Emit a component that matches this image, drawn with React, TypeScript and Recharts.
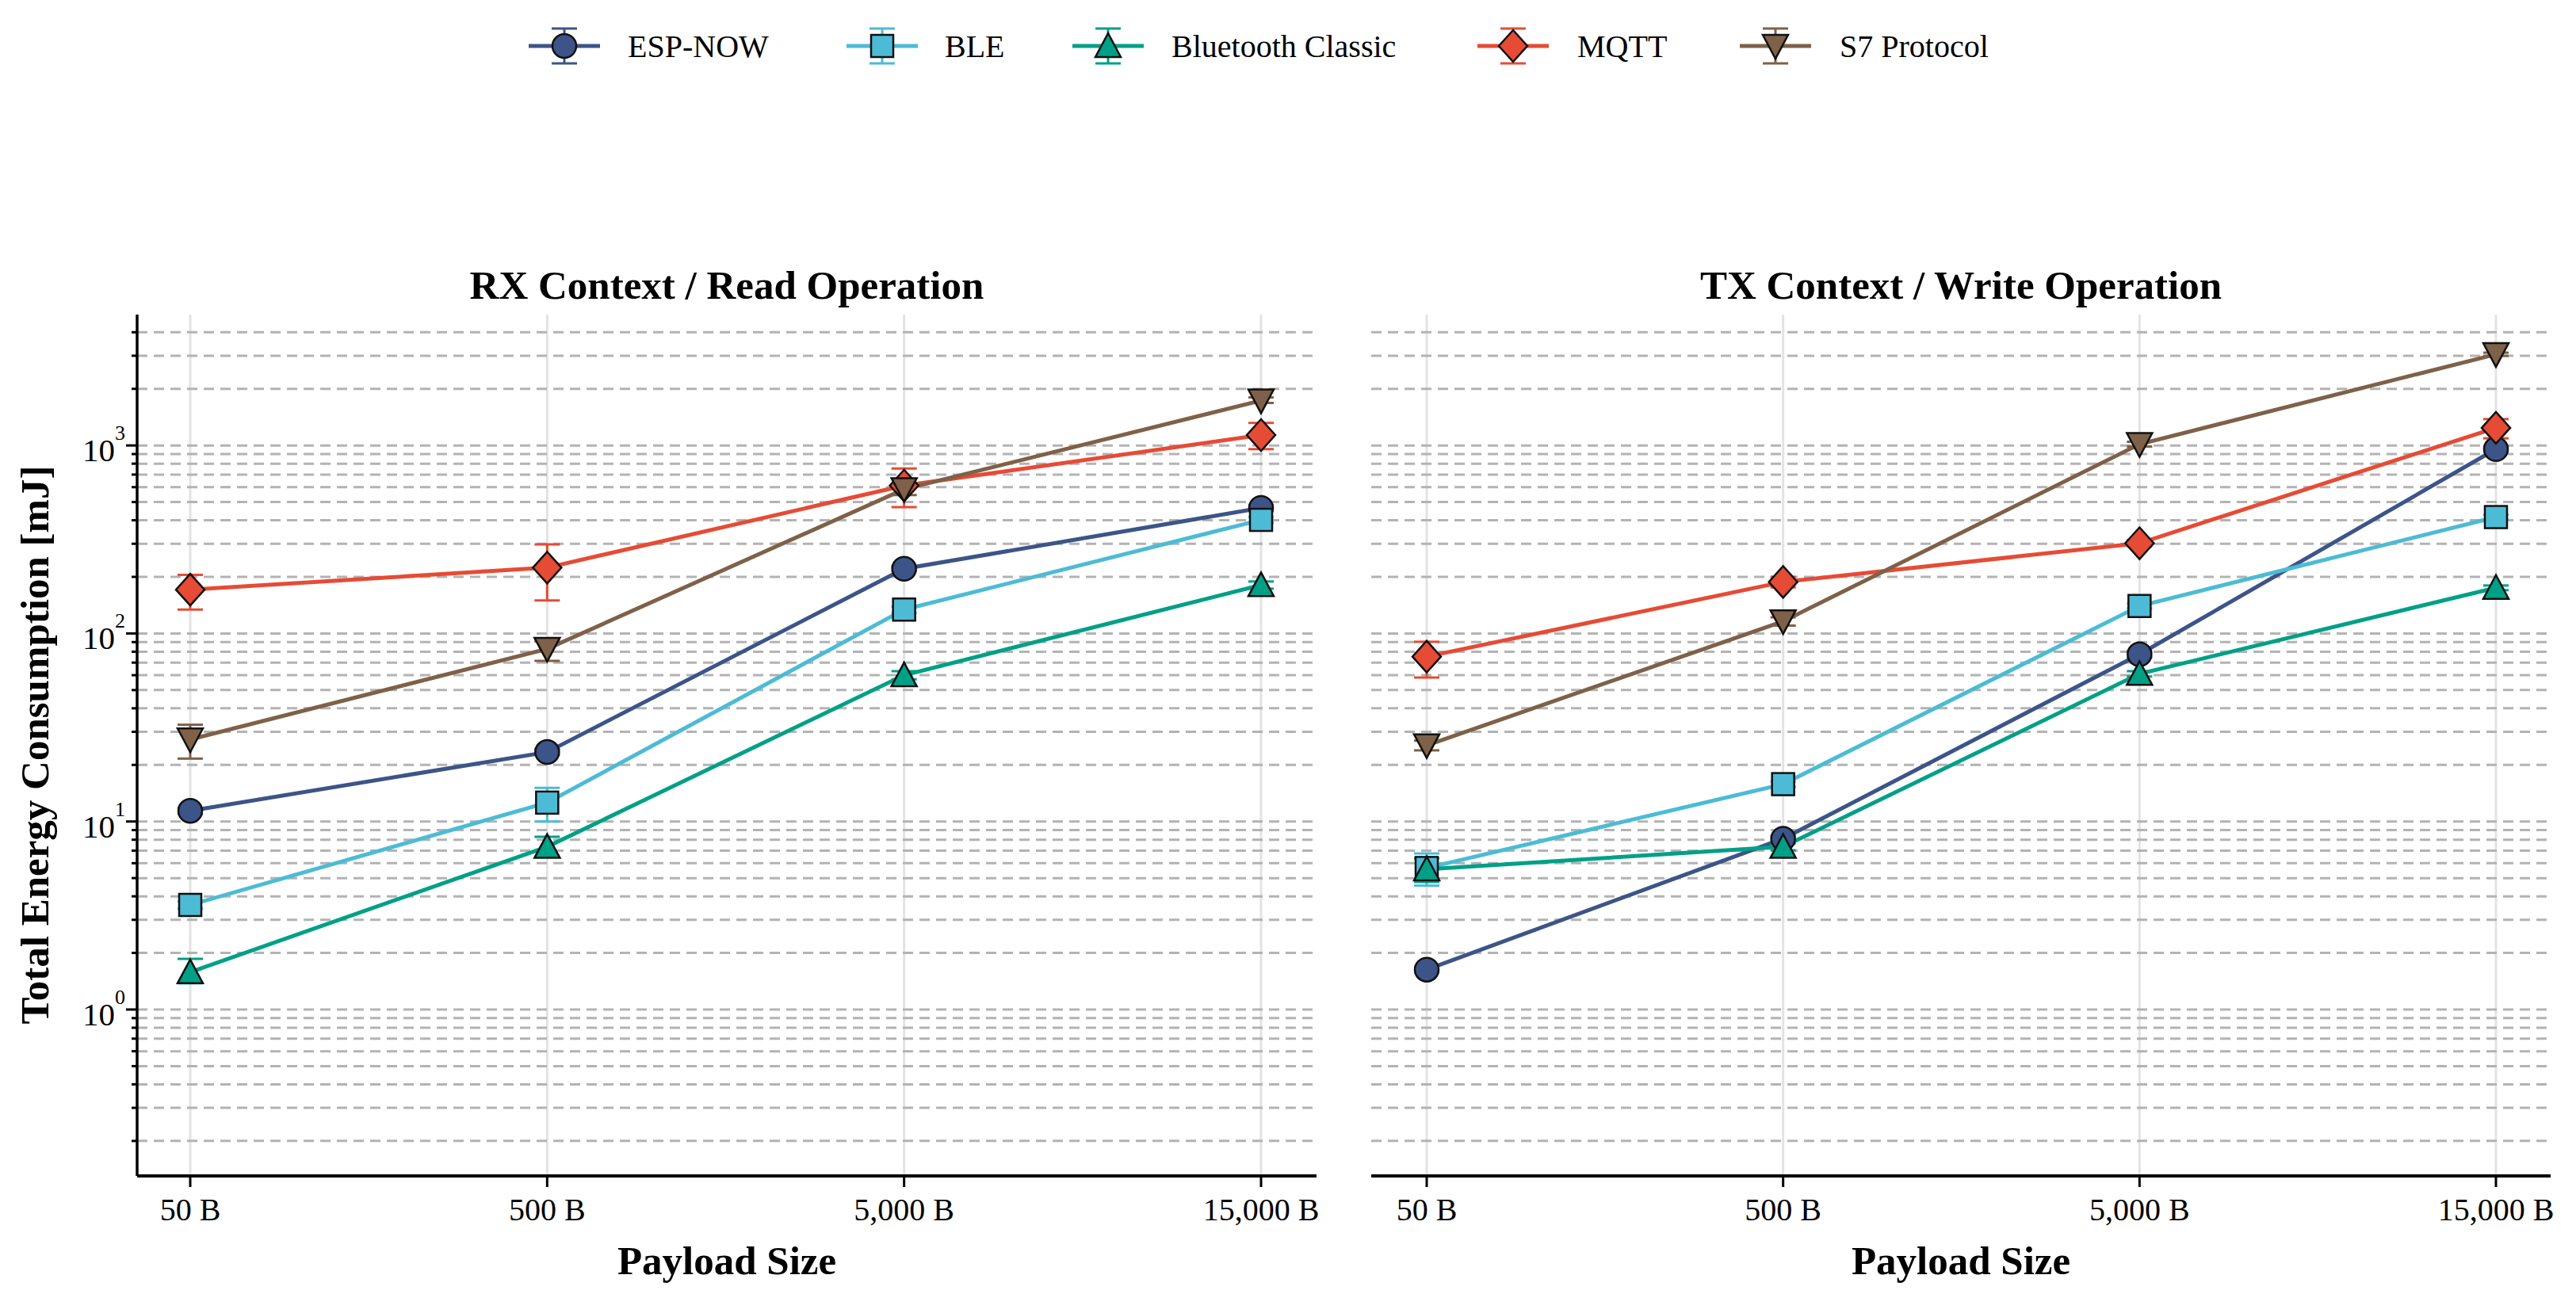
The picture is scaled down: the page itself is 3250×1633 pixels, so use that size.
import React from 'react'
import { LineChart, Line, XAxis, YAxis, CartesianGrid, ErrorBar } from 'recharts'

// ── Data ──────────────────────────────────────────────────────────────────────

const CATEGORIES = ['50 B', '500 B', '5,000 B', '15,000 B']

// RX context / read operation (mJ)
const ESP_RX  = [11.4, 23.4, 221, 465]
const BLE_RX  = [3.6, 12.6, 134, 402]
const BT_RX   = [1.58, 7.34, 60, 181]
const MQTT_RX = [171, 224, 612, 1136]
const S7_RX   = [27.3, 82.8, 585, 1733]

// [below, above] error deltas
const ESP_RX_ERR  = [[0.4, 0.4], [0.8, 0.8], [6, 6], [15, 15]]
const BLE_RX_ERR  = [[0.15, 0.15], [2.6, 2.5], [5, 5], [15, 15]]
const BT_RX_ERR   = [[0.2, 0.28], [0.84, 0.96], [3, 3], [8, 8]]
const MQTT_RX_ERR = [[37, 34], [74, 74], [142, 142], [180, 182]]
const S7_RX_ERR   = [[5.7, 5.4], [11.3, 7.8], [40, 40], [50, 67]]

// TX context / write operation (mJ)
const ESP_TX  = [1.63, 8.1, 77.5, 956]
const BLE_TX  = [5.66, 15.8, 140, 416]
const BT_TX   = [5.57, 7.34, 61, 175]
const MQTT_TX = [75.3, 188, 302, 1241]
const S7_TX   = [25.4, 116, 1016, 3055]

const ESP_TX_ERR  = [[0.05, 0.05], [0.3, 0.3], [3, 3], [30, 30]]
const BLE_TX_ERR  = [[1.1, 1.1], [0.5, 0.5], [4, 4], [12, 12]]
const BT_TX_ERR   = [[0.8, 0.8], [0.3, 0.3], [2, 2], [5, 5]]
const MQTT_TX_ERR = [[17, 15], [12, 12], [12, 12], [150, 140]]
const S7_TX_ERR   = [[1.5, 1.5], [6, 6], [30, 30], [60, 60]]

const Y_TICKS = [
  0.2, 0.3, 0.4, 0.5, 0.6, 0.7, 0.8, 0.9,
  1, 2, 3, 4, 5, 6, 7, 8, 9,
  10, 20, 30, 40, 50, 60, 70, 80, 90,
  100, 200, 300, 400, 500, 600, 700, 800, 900,
  1000, 2000, 3000, 4000,
]

// ── Series styling ────────────────────────────────────────────────────────────

type Shape = 'circle' | 'square' | 'triUp' | 'diamond' | 'triDown'

interface SeriesDef {
  key:   string
  name:  string
  color: string
  shape: Shape
}

const SERIES: SeriesDef[] = [
  { key: 'esp',  name: 'ESP-NOW',           color: '#3C5488', shape: 'circle'  },
  { key: 'ble',  name: 'BLE',               color: '#4DBBD5', shape: 'square'  },
  { key: 'bt',   name: 'Bluetooth Classic', color: '#00A087', shape: 'triUp'   },
  { key: 'mqtt', name: 'MQTT',              color: '#E64B35', shape: 'diamond' },
  { key: 's7',   name: 'S7 Protocol',       color: '#7E6148', shape: 'triDown' },
]

const FONT = '"Liberation Serif", "Times New Roman", Times, serif'

function buildRows(values: number[][], errs: number[][][]) {
  return CATEGORIES.map((size, i) => {
    const row: Record<string, unknown> = { size }
    SERIES.forEach((s, k) => {
      row[s.key] = values[k][i]
      row[s.key + 'Err'] = errs[k][i]
    })
    return row
  })
}

const RX_ROWS = buildRows(
  [ESP_RX, BLE_RX, BT_RX, MQTT_RX, S7_RX],
  [ESP_RX_ERR, BLE_RX_ERR, BT_RX_ERR, MQTT_RX_ERR, S7_RX_ERR],
)
const TX_ROWS = buildRows(
  [ESP_TX, BLE_TX, BT_TX, MQTT_TX, S7_TX],
  [ESP_TX_ERR, BLE_TX_ERR, BT_TX_ERR, MQTT_TX_ERR, S7_TX_ERR],
)

// ── Markers ───────────────────────────────────────────────────────────────────

function Marker({ shape, cx, cy, color }: { shape: Shape; cx: number; cy: number; color: string }) {
  const common = { fill: color, stroke: '#111', strokeWidth: 2.5, strokeLinejoin: 'miter' as const }
  switch (shape) {
    case 'circle':
      return <circle cx={cx} cy={cy} r={15} {...common} />
    case 'square':
      return <rect x={cx - 14} y={cy - 14} width={28} height={28} {...common} />
    case 'triUp':
      return <polygon points={`${cx},${cy - 16} ${cx - 16},${cy + 14} ${cx + 16},${cy + 14}`} {...common} />
    case 'diamond':
      return <polygon points={`${cx},${cy - 20} ${cx + 18},${cy} ${cx},${cy + 20} ${cx - 18},${cy}`} {...common} />
    case 'triDown':
      return <polygon points={`${cx - 16},${cy - 14} ${cx + 16},${cy - 14} ${cx},${cy + 16}`} {...common} />
  }
}

// ── Log-axis tick ─────────────────────────────────────────────────────────────

function LogTick(props: any) {
  const { x, y, payload, showLabel } = props
  if (!showLabel || !Y_TICKS.includes(payload.value)) return <g />
  const exp = Math.log10(payload.value)
  const major = Math.abs(exp - Math.round(exp)) < 1e-6
  const len = major ? 14 : 7
  return (
    <g>
      <line x1={x - len} x2={x} y1={y} y2={y} stroke="#000" strokeWidth={3} />
      {major && (
        <text x={x - 15} y={y + 20} textAnchor="end" fontFamily={FONT} fontSize={41} fill="#000">
          10<tspan dy={-27} fontSize={26}>{Math.round(exp)}</tspan>
        </text>
      )}
    </g>
  )
}

// ── Panel ─────────────────────────────────────────────────────────────────────

interface PanelProps {
  rows:      Record<string, unknown>[]
  left:      number
  width:     number
  margin:    { top: number; right: number; bottom: number; left: number }
  yWidth:    number
  showYAxis: boolean
  padding:   { left: number; right: number }
}

function Panel({ rows, left, width, margin, yWidth, showYAxis, padding }: PanelProps) {
  return (
    <div style={{ position: 'absolute', left, top: 0 }}>
      <LineChart width={width} height={1633} data={rows} margin={margin}>
        <CartesianGrid horizontal={false} syncWithTicks stroke="#e3e3e3" strokeWidth={3} />
        <CartesianGrid
          vertical={false}
          syncWithTicks
          stroke="#b3b3b3"
          strokeWidth={3}
          strokeDasharray="13 8"
        />
        <XAxis
          dataKey="size"
          type="category"
          interval={0}
          padding={padding}
          height={100}
          tickSize={14}
          tickMargin={14}
          axisLine={{ stroke: '#000', strokeWidth: 4 }}
          tickLine={{ stroke: '#000', strokeWidth: 3 }}
          tick={{ fontSize: 40, fontFamily: FONT, fill: '#000' }}
        />
        <YAxis
          type="number"
          scale="log"
          domain={[0.1303, 4966]}
          allowDataOverflow
          ticks={Y_TICKS}
          interval={0}
          width={yWidth}
          tickSize={0}
          tickMargin={0}
          tickLine={false}
          axisLine={showYAxis ? { stroke: '#000', strokeWidth: 3.5 } : false}
          tick={(p: any) => <LogTick {...p} showLabel={showYAxis} />}
        />
        {SERIES.map((s) => (
          <Line
            key={s.key}
            dataKey={s.key}
            name={s.name}
            type="linear"
            stroke={s.color}
            strokeWidth={5}
            isAnimationActive={false}
            dot={(p: any) => (
              <Marker key={`${s.key}-${p.index}`} shape={s.shape} cx={p.cx} cy={p.cy} color={s.color} />
            )}
            activeDot={false}
          >
            <ErrorBar
              dataKey={s.key + 'Err'}
              direction="y"
              width={16}
              stroke={s.color}
              strokeWidth={3}
              isAnimationActive={false}
            />
          </Line>
        ))}
      </LineChart>
    </div>
  )
}

// ── Legend icon ───────────────────────────────────────────────────────────────

function LegendItem({ s, cx, tx }: { s: SeriesDef; cx: number; tx: number }) {
  const cy = 58
  return (
    <g>
      <line x1={cx - 45} x2={cx + 45} y1={cy} y2={cy} stroke={s.color} strokeWidth={5} />
      <line x1={cx} x2={cx} y1={cy - 22} y2={cy + 22} stroke={s.color} strokeWidth={3} />
      <line x1={cx - 16} x2={cx + 16} y1={cy - 22} y2={cy - 22} stroke={s.color} strokeWidth={3} />
      <line x1={cx - 16} x2={cx + 16} y1={cy + 22} y2={cy + 22} stroke={s.color} strokeWidth={3} />
      <Marker shape={s.shape} cx={cx} cy={cy} color={s.color} />
      <text x={tx} y={cy + 14} fontFamily={FONT} fontSize={40} fill="#000">{s.name}</text>
    </g>
  )
}

const LEGEND_POS = [
  { cx: 712,  tx: 792  },
  { cx: 1113, tx: 1192 },
  { cx: 1398, tx: 1478 },
  { cx: 1909, tx: 1990 },
  { cx: 2240, tx: 2321 },
]

// ── App ───────────────────────────────────────────────────────────────────────

export default function App() {
  return (
    <div style={{ position: 'absolute', left: 0, top: 0, width: 3250, height: 1633, background: '#fff', overflow: 'hidden' }}>
      <Panel
        rows={RX_ROWS}
        left={0}
        width={1700}
        margin={{ top: 397, right: 39, bottom: 49, left: 13 }}
        yWidth={160}
        showYAxis
        padding={{ left: 67, right: 70 }}
      />
      <Panel
        rows={TX_ROWS}
        left={1700}
        width={1550}
        margin={{ top: 397, right: 32, bottom: 49, left: 29 }}
        yWidth={1}
        showYAxis={false}
        padding={{ left: 70, right: 69 }}
      />
      <svg
        width={3250}
        height={1633}
        style={{ position: 'absolute', left: 0, top: 0, pointerEvents: 'none' }}
      >
        <text x={917} y={377} textAnchor="middle" fontFamily={FONT} fontWeight="bold" fontSize={51}>
          RX Context / Read Operation
        </text>
        <text x={2474} y={377} textAnchor="middle" fontFamily={FONT} fontWeight="bold" fontSize={51}>
          TX Context / Write Operation
        </text>
        <text x={917} y={1608} textAnchor="middle" fontFamily={FONT} fontWeight="bold" fontSize={51}>
          Payload Size
        </text>
        <text x={2474} y={1608} textAnchor="middle" fontFamily={FONT} fontWeight="bold" fontSize={51}>
          Payload Size
        </text>
        <text
          x={0}
          y={0}
          transform="translate(61 940) rotate(-90)"
          textAnchor="middle"
          fontFamily={FONT}
          fontWeight="bold"
          fontSize={51}
        >
          Total Energy Consumption [mJ]
        </text>
        {SERIES.map((s, i) => (
          <LegendItem key={s.key} s={s} cx={LEGEND_POS[i].cx} tx={LEGEND_POS[i].tx} />
        ))}
      </svg>
    </div>
  )
}
